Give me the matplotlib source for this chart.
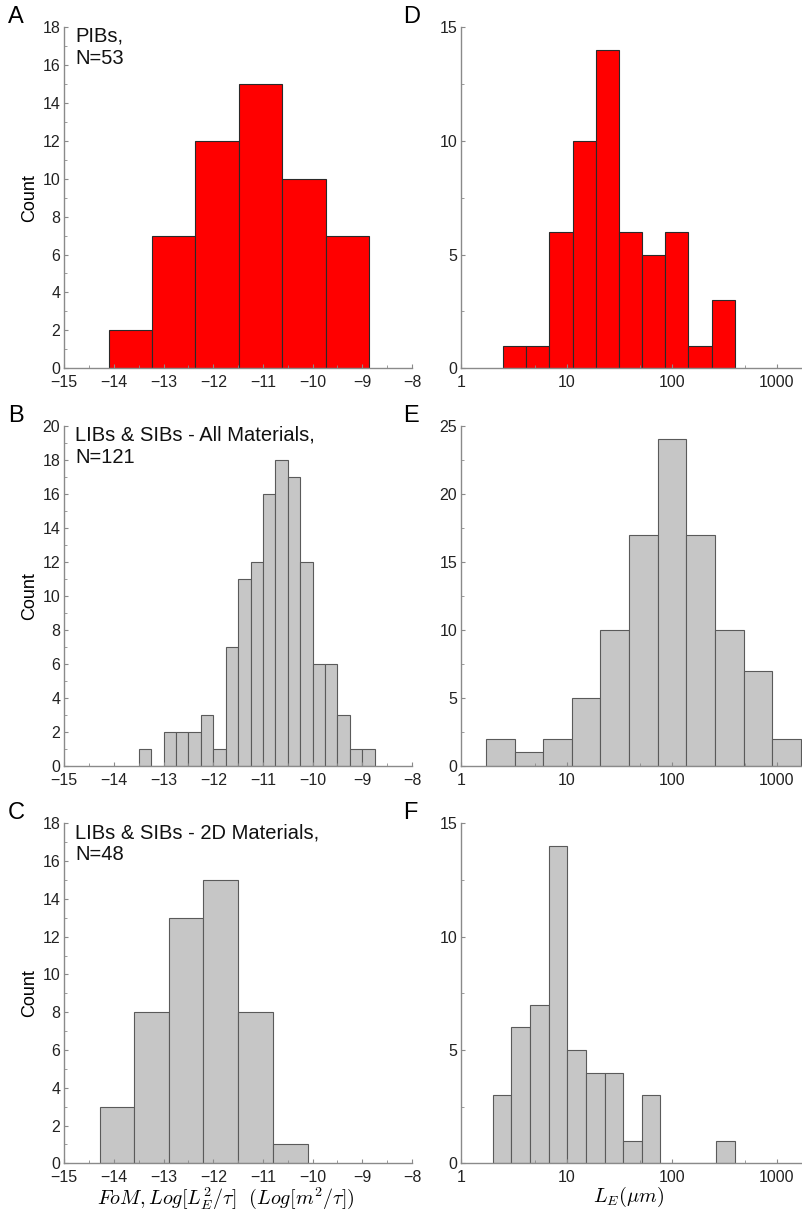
import matplotlib
matplotlib.use("Agg")
import matplotlib.pyplot as plt
import numpy as np
from matplotlib.ticker import MultipleLocator, LogLocator, FixedLocator, FuncFormatter

plt.rcParams['font.family'] = ['Liberation Sans', 'DejaVu Sans']
plt.rcParams['mathtext.fontset'] = 'cm'

# FoM histograms (left column), bin edges in Log[m^2/tau]
fom_pib_edges = [-14.11, -13.24, -12.37, -11.49, -10.62, -9.74, -8.87]
fom_pib_counts = [2, 7, 12, 15, 10, 7]

fom_all_edges = [-13.5, -13.25, -13.0, -12.75, -12.5, -12.25, -12.0, -11.75, -11.5,
                 -11.25, -11.0, -10.75, -10.5, -10.25, -10.0, -9.75, -9.5, -9.25,
                 -9.0, -8.75]
fom_all_counts = [1, 0, 2, 2, 2, 3, 1, 7, 11, 12, 16, 18, 17, 12, 6, 6, 3, 1, 1]

fom_2d_edges = [-14.29, -13.59, -12.89, -12.20, -11.50, -10.80, -10.10]
fom_2d_counts = [3, 8, 13, 15, 8, 1]

# L_E histograms (right column), bin edges in um
le_pib_edges = [2.49, 4.13, 6.86, 11.4, 18.9, 31.4, 52.1, 86.5, 143.9, 238.8, 396.3]
le_pib_counts = [1, 1, 6, 10, 14, 6, 5, 6, 1, 3]

le_all_edges = [1.716, 3.213, 5.973, 11.18, 20.94, 39.21, 73.4, 137.4, 257.3, 481.9,
                902.3, 1690]
le_all_counts = [2, 1, 2, 5, 10, 17, 24, 17, 10, 7, 2]

le_2d_edges = [1.985, 2.985, 4.488, 6.749, 10.15, 15.26, 22.95, 34.51, 51.9, 78.05,
               117.4, 176.5, 265.5, 399.2]
le_2d_counts = [3, 6, 7, 14, 5, 4, 4, 1, 3, 0, 0, 0, 1]

panel_text = ["PIBs,\nN=53", "LIBs & SIBs - All Materials,\nN=121",
              "LIBs & SIBs - 2D Materials,\nN=48"]
letters_left = ["A", "B", "C"]
letters_right = ["D", "E", "F"]
ymax_left = [18, 20, 18]
ymax_right = [15, 25, 15]

RED = "#ff0000"
GREY = "#c6c6c6"
SPINE = "#8a8a8a"

W, H = 803, 1213
fig = plt.figure(figsize=(W / 100, H / 100), dpi=100)

rows = [(27, 368.3), (425.7, 766), (823.3, 1163.3)]
left_x = (64.3, 412)
right_x = (461.5, 802.5)


def make_ax(xr, yr):
    return fig.add_axes([xr[0] / W, 1 - yr[1] / H, (xr[1] - xr[0]) / W, (yr[1] - yr[0]) / H])


def style(ax):
    for s in ["top", "right"]:
        ax.spines[s].set_visible(False)
    for s in ["left", "bottom"]:
        ax.spines[s].set_color(SPINE)
        ax.spines[s].set_linewidth(1.0)
    ax.tick_params(which="both", direction="in", color=SPINE, labelsize=11.5,
                   labelcolor="#222222")
    ax.tick_params(axis="x", which="both", pad=5)
    ax.tick_params(axis="y", which="both", pad=3)
    ax.tick_params(which="major", length=3)
    ax.tick_params(which="minor", length=2)
    ax.set_facecolor("none")


def bars(ax, edges, counts, color, edge):
    edges = np.asarray(edges, dtype=float)
    ax.bar(edges[:-1], counts, width=np.diff(edges), align="edge",
           color=color, edgecolor=edge, linewidth=0.8)


fom_sets = [(fom_pib_edges, fom_pib_counts), (fom_all_edges, fom_all_counts),
            (fom_2d_edges, fom_2d_counts)]
le_sets = [(le_pib_edges, le_pib_counts), (le_all_edges, le_all_counts),
           (le_2d_edges, le_2d_counts)]

for i, (yr, (fe, fc), (le, lc)) in enumerate(zip(rows, fom_sets, le_sets)):
    fill = RED if i == 0 else GREY
    edge = "#2a2a2a" if i == 0 else "#5a5a5a"

    # left: FoM
    ax = make_ax(left_x, yr)
    style(ax)
    bars(ax, fe, fc, fill, edge)
    ax.set_xlim(-15, -8)
    ax.set_ylim(0, ymax_left[i])
    ax.xaxis.set_major_locator(MultipleLocator(1))
    ax.xaxis.set_minor_locator(MultipleLocator(0.5))
    ax.yaxis.set_major_locator(MultipleLocator(2))
    ax.yaxis.set_minor_locator(MultipleLocator(1))
    ax.xaxis.set_major_formatter(FuncFormatter(lambda v, p: "\u2212%d" % abs(v) if v < 0 else "%d" % v))
    ax.set_ylabel("Count", fontsize=13, labelpad=3)
    ax.text(0.032, 1.0, panel_text[i], transform=ax.transAxes, va="top", ha="left",
            fontsize=14.5, linespacing=1.2, color="#111111")
    fig.text(8 / W, 1 - (yr[0] - 10) / H, letters_left[i], fontsize=17, va="center", ha="left")
    if i == 2:
        ax.set_xlabel(r"$FoM, Log[L_E^2/\tau]\ \ (Log[m^2/\tau])$", fontsize=14.5, labelpad=0)
        ax.xaxis.set_label_coords(0.465, -0.063)

    # right: L_E
    ax = make_ax(right_x, yr)
    style(ax)
    bars(ax, le, lc, fill, edge)
    ax.set_xscale("log")
    ax.set_xlim(1, 1750)
    ax.set_ylim(0, ymax_right[i])
    ax.xaxis.set_major_locator(FixedLocator([1, 10, 100, 1000]))
    ax.xaxis.set_minor_locator(LogLocator(base=10, subs=[5]))
    ax.xaxis.set_major_formatter(FuncFormatter(lambda v, p: "%d" % v))
    ax.yaxis.set_major_locator(MultipleLocator(5))
    ax.yaxis.set_minor_locator(MultipleLocator(2.5))
    fig.text(403 / W, 1 - (yr[0] - 10) / H, letters_right[i], fontsize=17, va="center", ha="left")
    if i == 2:
        ax.set_xlabel(r"$L_E(\mu m)$", fontsize=14.5, labelpad=0)
        ax.xaxis.set_label_coords(0.49, -0.063)

fig.savefig("out.png", dpi=100)
